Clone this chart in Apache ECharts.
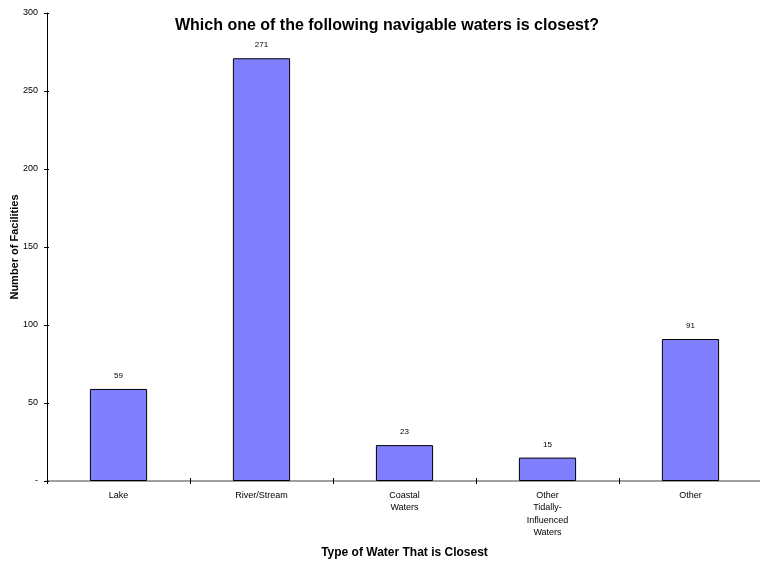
<!DOCTYPE html>
<html>
<head>
<meta charset="utf-8">
<script src="https://cdn.jsdelivr.net/npm/echarts@6/dist/echarts.min.js"></script>
<style>
  html, body { margin: 0; padding: 0; background: #fff; }
  #chart { width: 760px; height: 563px; }
</style>
</head>
<body>
<div id="chart"></div>
<script>
// Closest navigable water type per facility
const categories = ['Lake', 'River/Stream', 'Coastal\nWaters', 'Other\nTidally-\nInfluenced\nWaters', 'Other'];
const facilityCounts = [59, 271, 23, 15, 91];
const yTicks = [0, 50, 100, 150, 200, 250, 300];

const FONT = 'Liberation Sans, Arial, sans-serif';
const chart = echarts.init(document.getElementById('chart'));

const tickStyle = { color: '#000', width: 1 };

chart.setOption({
  animation: false,
  title: {
    text: 'Which one of the following navigable waters is closest?',
    left: 382,
    textAlign: 'center',
    top: 13,
    textStyle: { fontFamily: FONT, fontSize: 16, fontWeight: 'bold', color: '#000' }
  },
  grid: { left: 47, right: -2, top: 13, bottom: 82, containLabel: false, outerBoundsMode: 'none' },
  xAxis: [{
    type: 'category',
    data: categories,
    name: 'Type of Water That is Closest',
    nameLocation: 'middle',
    nameGap: 66,
    nameMoveOverlap: false,
    nameTextStyle: { fontFamily: FONT, fontSize: 12, fontWeight: 'bold', color: '#000' },
    axisLine: { lineStyle: { color: '#808080', width: 1.5 } },
    axisTick: { show: true, length: 3, lineStyle: tickStyle },
    axisLabel: {
      fontFamily: FONT, fontSize: 9, color: '#000', margin: 8, lineHeight: 12.5,
      interval: 0
    }
  }, {
    // inner half of the crossing tick marks
    type: 'category',
    data: categories,
    position: 'bottom',
    axisLine: { show: false },
    axisTick: { show: true, inside: true, length: 3, lineStyle: tickStyle },
    axisLabel: { show: false }
  }],
  yAxis: [{
    type: 'value',
    min: 0,
    max: 300,
    interval: 50,
    name: 'Number of Facilities',
    nameLocation: 'middle',
    nameGap: 27,
    nameMoveOverlap: false,
    nameTextStyle: { fontFamily: FONT, fontSize: 11, fontWeight: 'bold', color: '#000' },
    axisLine: { show: true, lineStyle: { color: '#000', width: 1 } },
    axisTick: { show: true, length: 3, lineStyle: tickStyle },
    splitLine: { show: false },
    axisLabel: {
      fontFamily: FONT, fontSize: 9, color: '#000', margin: 9,
      formatter: v => (v === yTicks[0] ? '-' : String(v))
    }
  }, {
    type: 'value',
    min: 0,
    max: 300,
    interval: 50,
    position: 'left',
    axisLine: { show: false },
    axisTick: { show: true, inside: true, length: 2, lineStyle: tickStyle },
    splitLine: { show: false },
    axisLabel: { show: false }
  }],
  series: [{
    type: 'bar',
    data: facilityCounts,
    barWidth: '40%',
    itemStyle: { color: '#8080FF', borderColor: '#000', borderWidth: 1 },
    label: {
      show: true, position: 'top', distance: 9,
      fontFamily: FONT, fontSize: 8, color: '#000'
    }
  }]
});
</script>
</body>
</html>
